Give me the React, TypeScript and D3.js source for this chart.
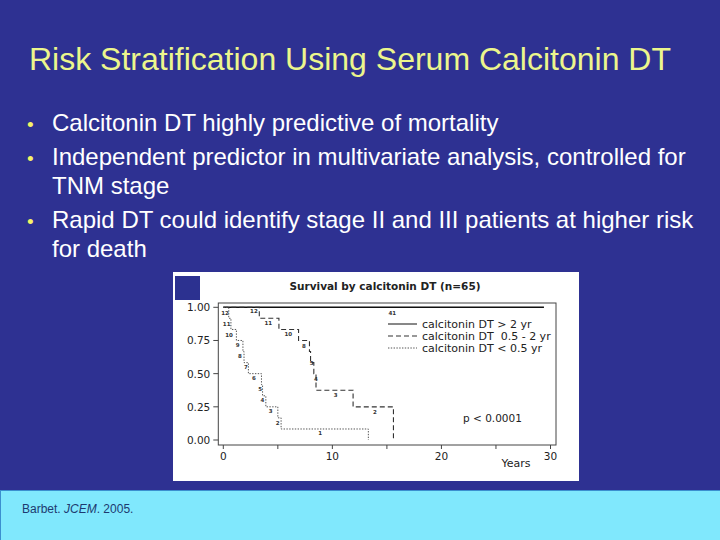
import React from 'react';
import * as d3 from 'd3';

// Slide text
const titleText = 'Risk Stratification Using Serum Calcitonin DT';
const bulletLines = [
  ['Calcitonin DT highly predictive of mortality'],
  ['Independent predictor in multivariate analysis, controlled for', 'TNM stage'],
  ['Rapid DT could identify stage II and III patients at higher risk', 'for death'],
];

// Kaplan-Meier steps (years, survival after the step)
const slowTimes = [0, 29.4];
const slowSurv = [1, 1];
const midTimes = [0, 3.3, 5.1, 6.9, 7.9, 8.0, 8.3, 8.5, 11.9, 15.6];
const midSurv = [1, 0.917, 0.833, 0.75, 0.667, 0.583, 0.5, 0.375, 0.25, 0];
const fastTimes = [0, 0.5, 0.7, 1.2, 1.8, 1.9, 2.3, 3.5, 3.6, 3.9, 5.0, 5.3, 13.3];
const fastSurv = [1, 0.917, 0.833, 0.75, 0.667, 0.583, 0.5, 0.417, 0.333, 0.25, 0.167, 0.083, 0];

// numbers at risk printed along the curves
const fastRiskN = [12, 11, 10, 9, 8, 7, 6, 5, 4, 3, 2, 1];
const fastRiskT = [0.16, 0.31, 0.52, 1.32, 1.53, 2.08, 2.81, 3.37, 3.58, 4.35, 4.99, 8.87];
const fastRiskS = [0.957, 0.877, 0.791, 0.716, 0.633, 0.553, 0.465, 0.384, 0.301, 0.221, 0.13, 0.05];
const midRiskN = [12, 11, 10, 8, 5, 4, 3, 2];
const midRiskT = [2.81, 4.13, 5.96, 7.4, 8.1, 8.5, 10.3, 13.9];
const midRiskS = [0.972, 0.884, 0.799, 0.708, 0.582, 0.457, 0.339, 0.214];
const slowRiskN = [41];
const slowRiskT = [15.5];
const slowRiskS = [0.96];

const xTicks = [0, 10, 20, 30];
const xMinorTicks = [5, 15, 25];
const yTicks = [0, 0.25, 0.5, 0.75, 1];

const legendLabels = ['calcitonin DT > 2 yr', 'calcitonin DT  0.5 - 2 yr', 'calcitonin DT < 0.5 yr'];

const BG = '#2e3192';
const chartFont = '"DejaVu Sans", Verdana, sans-serif';
const slideFont = '"Liberation Sans", Arial, sans-serif';

const styles = [
  { stroke: '#111', width: 1.4, dash: undefined },
  { stroke: '#333', width: 1.1, dash: '5,3' },
  { stroke: '#555', width: 1, dash: '1.4,1.4' },
];

export default function App() {
  const x = d3.scaleLinear().domain([0, 30]).range([223.3, 550.5]);
  const y = d3.scaleLinear().domain([0, 1]).range([440, 307.3]);

  const line = d3
    .line<[number, number]>()
    .x(d => x(d[0]))
    .y(d => y(d[1]))
    .curve(d3.curveStepAfter);

  const series = [
    { times: slowTimes, surv: slowSurv, n: slowRiskN, t: slowRiskT, s: slowRiskS },
    { times: midTimes, surv: midSurv, n: midRiskN, t: midRiskT, s: midRiskS },
    { times: fastTimes, surv: fastSurv, n: fastRiskN, t: fastRiskT, s: fastRiskS },
  ];

  // frame around the plot area
  const fx0 = 218.3, fx1 = 556, fy0 = 303, fy1 = 445;

  let lineY = 131;
  const bulletRows: { text: string; y: number; bullet: boolean }[] = [];
  bulletLines.forEach((item, i) => {
    if (i > 0) lineY += 34;
    item.forEach((t, j) => {
      if (j > 0) lineY += 29;
      bulletRows.push({ text: t, y: lineY, bullet: j === 0 });
    });
  });

  return (
    <div style={{ position: 'absolute', left: 0, top: 0 }}>
      <svg width={720} height={540} style={{ display: 'block' }}>
        <rect x={0} y={0} width={720} height={540} fill={BG} />

        {/* title */}
        <text x={29} y={70} fontFamily={slideFont} fontSize={32} fill="#ecf68c">
          {titleText}
        </text>

        {/* bullets */}
        {bulletRows.map((r, i) => (
          <g key={i}>
            {r.bullet && (
              <text x={27} y={r.y} fontFamily={slideFont} fontSize={19} fill="#f4f466">
                •
              </text>
            )}
            <text x={52} y={r.y} fontFamily={slideFont} fontSize={24} fill="#ffffff">
              {r.text}
            </text>
          </g>
        ))}

        {/* footer band */}
        <rect x={0.5} y={490.5} width={720} height={50} fill="#80e8fd" stroke="#3b8fcf" strokeWidth={1} />
        <text x={22} y={513} fontFamily={slideFont} fontSize={12} fill="#1d3a70">
          Barbet. <tspan fontStyle="italic">JCEM</tspan>. 2005.
        </text>

        {/* chart panel */}
        <rect x={173} y={272} width={406} height={209} fill="#ffffff" />
        <rect x={175} y={276} width={25} height={24} fill="#2c3190" />

        <text x={385} y={290} textAnchor="middle" fontFamily={chartFont} fontSize={10.5} fontWeight="bold" fill="#222">
          Survival by calcitonin DT (n=65)
        </text>

        {/* frame */}
        <rect x={fx0} y={fy0} width={fx1 - fx0} height={fy1 - fy0} fill="none" stroke="#444" strokeWidth={1} />

        {/* y axis */}
        {yTicks.map(v => (
          <g key={v}>
            <line x1={fx0 - 5} x2={fx0} y1={y(v)} y2={y(v)} stroke="#444" />
            <text x={fx0 - 8} y={y(v) + 4} textAnchor="end" fontFamily={chartFont} fontSize={10.5} fill="#222">
              {d3.format('.2f')(v)}
            </text>
          </g>
        ))}

        {/* x axis */}
        {xTicks.map(v => (
          <g key={v}>
            <line x1={x(v)} x2={x(v)} y1={fy1} y2={fy1 + 4} stroke="#444" />
            <text x={x(v)} y={460} textAnchor="middle" fontFamily={chartFont} fontSize={10.5} fill="#222">
              {v}
            </text>
          </g>
        ))}
        {xMinorTicks.map(v => (
          <line key={v} x1={x(v)} x2={x(v)} y1={fy1} y2={fy1 + 4} stroke="#444" />
        ))}
        <text x={516} y={467} textAnchor="middle" fontFamily={chartFont} fontSize={11} fill="#222">
          Years
        </text>

        {/* curves */}
        {series.map((sr, i) => (
          <path
            key={i}
            d={line(sr.times.map((t, k) => [t, sr.surv[k]] as [number, number])) || ''}
            fill="none"
            stroke={styles[i].stroke}
            strokeWidth={styles[i].width}
            strokeDasharray={styles[i].dash}
          />
        ))}

        {/* numbers at risk */}
        {series.map((sr, i) =>
          sr.n.map((n, k) => (
            <text
              key={`${i}-${k}`}
              x={x(sr.t[k])}
              y={y(sr.s[k]) + 2}
              textAnchor="middle"
              fontFamily={chartFont}
              fontSize={5.5}
              fontWeight="bold"
              fill="#333"
            >
              {n}
            </text>
          ))
        )}

        {/* legend */}
        {legendLabels.map((lab, i) => {
          const ly = 324 + i * 12;
          return (
            <g key={lab}>
              <line
                x1={388}
                x2={417}
                y1={ly}
                y2={ly}
                stroke={styles[i].stroke}
                strokeWidth={i === 0 ? 1 : styles[i].width}
                strokeDasharray={styles[i].dash}
              />
              <text x={422} y={ly + 4} fontFamily={chartFont} fontSize={11} fill="#222" xmlSpace="preserve">
                {lab}
              </text>
            </g>
          );
        })}

        <text x={463} y={422} fontFamily={chartFont} fontSize={10.5} fill="#222">
          p &lt; 0.0001
        </text>
      </svg>
    </div>
  );
}
